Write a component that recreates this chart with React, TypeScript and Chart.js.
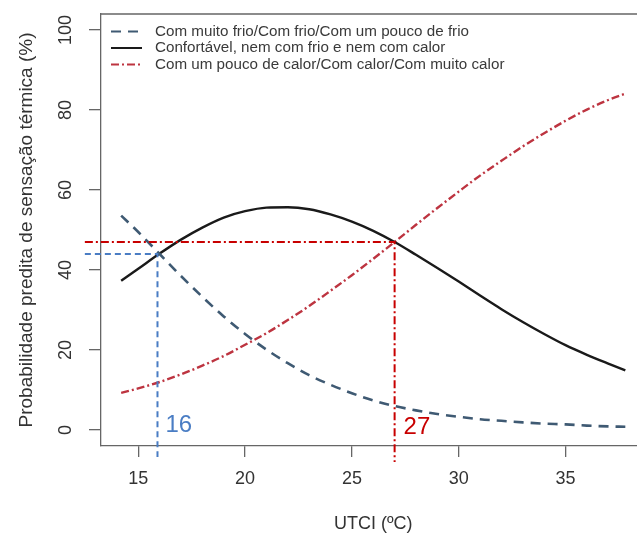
import React, { useEffect, useRef } from 'react';
import { Chart, registerables } from 'chart.js';

Chart.register(...registerables);

// ---- data ----
const utci = [14.2, 15, 16, 17, 18, 19, 20, 21, 22, 23, 24, 25, 26, 27, 28, 29, 30, 31, 32, 33, 34, 35, 36, 37, 37.8];
const coldProb = [53.6, 49.5, 44.0, 38.5, 33.3, 28.4, 24.0, 20.1, 16.7, 13.7, 11.3, 9.2, 7.4, 6.0, 4.9, 4.0, 3.3, 2.7, 2.3, 1.9, 1.6, 1.4, 1.1, 0.9, 0.8];
const comfortProb = [37.3, 40.3, 44.1, 47.6, 50.6, 53.1, 54.7, 55.6, 55.7, 55.2, 53.9, 52.1, 49.8, 47.0, 43.8, 40.5, 37.1, 33.6, 30.2, 27.0, 24.0, 21.2, 18.8, 16.6, 14.9];
const hotProb = [9.3, 10.4, 12.0, 13.9, 16.1, 18.5, 21.3, 24.2, 27.5, 31.0, 34.8, 38.7, 42.8, 47.0, 51.3, 55.5, 59.6, 63.6, 67.3, 70.9, 74.2, 77.3, 80.1, 82.5, 84.1];

const seriesLabels = [
  'Com muito frio/Com frio/Com um pouco de frio',
  'Confortável, nem com frio e nem com calor',
  'Com um pouco de calor/Com calor/Com muito calor',
];

const xTicks = [15, 20, 25, 30, 35];
const yTicks = [0, 20, 40, 60, 80, 100];
const xRange = [13.256, 38.744];
const yRange = [-4, 104];

// guide lines (UTCI, probability)
const coldGuideX = [12.5, 15.9, 15.9];
const coldGuideY = [44, 44, -6.75];
const hotGuideX = [12.5, 27, 27];
const hotGuideY = [47, 47, -8];
const coldGuideLabel = '16';
const hotGuideLabel = '27';

const xTitle = 'UTCI (ºC)';
const yTitle = 'Probabilidade predita de sensação térmica (%)';

// ---- styles ----
const FONT = '"Liberation Sans", Arial, Helvetica, sans-serif';
const COLD_COLOR = '#3f5a73';
const COMFORT_COLOR = '#1a1a1a';
const HOT_COLOR = '#bd3440';
const COLD_GUIDE = '#4a7dc4';
const HOT_GUIDE = '#c80000';
const AXIS_COLOR = '#666666';
const TEXT_COLOR = '#333333';
const LEGEND_TEXT = '#3a3a3a';
const COLD_DASH = [10, 7];
const HOT_DASH = [8, 3, 2, 3];

const W = 660;
const H = 535;

const pts = (xs: number[], ys: number[]) => xs.map((x, i) => ({ x, y: ys[i] }));

const decor = {
  id: 'decor',
  afterDraw(chart: any) {
    const { ctx, chartArea, scales } = chart;
    const xs = scales.x;
    const ys = scales.y;
    ctx.save();
    // box top and right sides
    ctx.strokeStyle = AXIS_COLOR;
    ctx.lineWidth = 1.3;
    ctx.beginPath();
    ctx.moveTo(chartArea.left, chartArea.top);
    ctx.lineTo(chartArea.right, chartArea.top);
    ctx.lineTo(chartArea.right, chartArea.bottom);
    ctx.stroke();

    // rotated y tick labels
    ctx.fillStyle = TEXT_COLOR;
    ctx.font = `18px ${FONT}`;
    ctx.textAlign = 'center';
    ctx.textBaseline = 'middle';
    yTicks.forEach((v) => {
      ctx.save();
      ctx.translate(chartArea.left - 35, ys.getPixelForValue(v));
      ctx.rotate(-Math.PI / 2);
      ctx.fillText(String(v), 0, 0);
      ctx.restore();
    });

    // legend
    const colors = [COLD_COLOR, COMFORT_COLOR, HOT_COLOR];
    const dashes = [COLD_DASH, [], HOT_DASH];
    const rowY = [31.5, 48, 64.5];
    ctx.font = `15.2px ${FONT}`;
    ctx.textAlign = 'left';
    seriesLabels.forEach((lab, i) => {
      ctx.strokeStyle = colors[i];
      ctx.lineWidth = 2;
      ctx.setLineDash(dashes[i]);
      ctx.beginPath();
      ctx.moveTo(chartArea.left + 10, rowY[i]);
      ctx.lineTo(chartArea.left + 41, rowY[i]);
      ctx.stroke();
      ctx.setLineDash([]);
      ctx.fillStyle = LEGEND_TEXT;
      ctx.fillText(lab, chartArea.left + 54, rowY[i]);
    });

    // guide labels
    ctx.font = `24px ${FONT}`;
    ctx.textBaseline = 'middle';
    ctx.fillStyle = COLD_GUIDE;
    ctx.fillText(coldGuideLabel, xs.getPixelForValue(coldGuideX[1]) + 8, ys.getPixelForValue(1.2));
    ctx.fillStyle = HOT_GUIDE;
    ctx.fillText(hotGuideLabel, xs.getPixelForValue(hotGuideX[1]) + 9, ys.getPixelForValue(0.6));
    ctx.restore();
  },
};

export default function App() {
  const ref = useRef<HTMLCanvasElement | null>(null);

  useEffect(() => {
    if (!ref.current) return;
    const chart = new Chart(ref.current, {
      type: 'scatter',
      data: {
        datasets: [
          {
            label: 'guia frio',
            data: pts(coldGuideX, coldGuideY),
            showLine: true,
            borderColor: COLD_GUIDE,
            borderWidth: 2,
            borderDash: [6, 4],
            pointRadius: 0,
            clip: false,
          } as any,
          {
            label: 'guia calor',
            data: pts(hotGuideX, hotGuideY),
            showLine: true,
            borderColor: HOT_GUIDE,
            borderWidth: 2,
            borderDash: HOT_DASH,
            pointRadius: 0,
            clip: false,
          } as any,
          {
            label: seriesLabels[0],
            data: pts(utci, coldProb),
            showLine: true,
            borderColor: COLD_COLOR,
            borderWidth: 2.6,
            borderDash: COLD_DASH,
            pointRadius: 0,
            cubicInterpolationMode: 'monotone',
          } as any,
          {
            label: seriesLabels[1],
            data: pts(utci, comfortProb),
            showLine: true,
            borderColor: COMFORT_COLOR,
            borderWidth: 2.4,
            pointRadius: 0,
            cubicInterpolationMode: 'monotone',
          } as any,
          {
            label: seriesLabels[2],
            data: pts(utci, hotProb),
            showLine: true,
            borderColor: HOT_COLOR,
            borderWidth: 2.4,
            borderDash: HOT_DASH,
            pointRadius: 0,
            cubicInterpolationMode: 'monotone',
          } as any,
        ],
      },
      options: {
        animation: false,
        responsive: false,
        devicePixelRatio: 1,
        layout: { padding: { left: 0, top: 14, right: W - 645.5, bottom: 0 } },
        plugins: {
          legend: { display: false },
          tooltip: { enabled: false },
        },
        scales: {
          x: {
            type: 'linear',
            min: xRange[0],
            max: xRange[1],
            afterBuildTicks: (s: any) => {
              s.ticks = xTicks.map((v) => ({ value: v }));
            },
            afterFit: (s: any) => {
              s.height = 89;
            },
            grid: { drawOnChartArea: false, drawTicks: true, tickLength: 11, color: AXIS_COLOR, lineWidth: 1.3 },
            border: { display: true, color: AXIS_COLOR, width: 1.3 },
            ticks: {
              font: { size: 18, family: FONT },
              color: TEXT_COLOR,
              padding: 11,
              maxRotation: 0,
              autoSkip: false,
            },
            title: {
              display: true,
              text: xTitle,
              font: { size: 18, family: FONT },
              color: TEXT_COLOR,
              padding: { top: 0, bottom: 0 },
            },
          },
          y: {
            type: 'linear',
            min: yRange[0],
            max: yRange[1],
            afterBuildTicks: (s: any) => {
              s.ticks = yTicks.map((v) => ({ value: v }));
            },
            afterFit: (s: any) => {
              s.width = 101;
            },
            grid: { drawOnChartArea: false, drawTicks: true, tickLength: 12, color: AXIS_COLOR, lineWidth: 1.3 },
            border: { display: true, color: AXIS_COLOR, width: 1.3 },
            ticks: {
              font: { size: 18, family: FONT },
              color: 'rgba(0,0,0,0)',
              autoSkip: false,
            },
            title: {
              display: true,
              text: yTitle,
              font: { size: 19, family: FONT },
              color: TEXT_COLOR,
              padding: { top: 15, bottom: 0 },
            },
          },
        },
      },
      plugins: [decor],
    });
    return () => chart.destroy();
  }, []);

  return (
    <div style={{ position: 'fixed', left: 0, top: 0, width: 637, height: 535, overflow: 'hidden', background: '#fff' }}>
      <canvas ref={ref} width={W} height={H} style={{ width: W, height: H, display: 'block' }} />
    </div>
  );
}
